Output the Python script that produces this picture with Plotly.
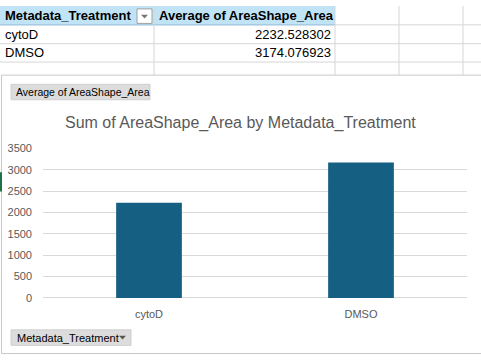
import plotly.graph_objects as go

# ---- data ----
treatments = ["cytoD", "DMSO"]
avg_area = [2232.528302, 3174.076923]
table_headers = ["Metadata_Treatment", "Average of AreaShape_Area"]
y_ticks = [0, 500, 1000, 1500, 2000, 2500, 3000, 3500]
chart_title = "Sum of AreaShape_Area by Metadata_Treatment"
value_button = "Average of AreaShape_Area"
axis_button = "Metadata_Treatment"

W, H = 481, 361
FONT = "Liberation Sans, Arial"


def px(x):
    return x / W


def py(y):
    return 1 - y / H


def note(text, x, y, xanchor="left", size=13, color="#000000"):
    return dict(text=text, x=px(x), y=py(y), xref="paper", yref="paper",
                xanchor=xanchor, yanchor="middle", showarrow=False,
                font=dict(family=FONT, size=size, color=color))


fig = go.Figure()
fig.add_trace(go.Bar(
    x=treatments, y=avg_area, marker=dict(color="#156082", line=dict(width=0)),
    width=0.31, hoverinfo="x+y"))

shapes = []
annotations = []
GRID = "#d6d6d6"

# ---- spreadsheet table ----
shapes.append(dict(type="rect", xref="paper", yref="paper", x0=px(0), x1=px(335),
                   y0=py(19.5), y1=py(0), fillcolor="#c0e4f5", line=dict(width=0), layer="below"))
for yy in [19.5, 39, 58]:
    shapes.append(dict(type="line", xref="paper", yref="paper", x0=0, x1=1,
                       y0=py(yy), y1=py(yy), line=dict(color=GRID, width=1)))
shapes.append(dict(type="line", xref="paper", yref="paper", x0=px(0), x1=px(335),
                   y0=py(19.5), y1=py(19.5), line=dict(color="#8fc3e3", width=1)))
for xx in [154, 335, 399, 463]:
    shapes.append(dict(type="line", xref="paper", yref="paper", x0=px(xx), x1=px(xx),
                       y0=py(0), y1=py(72), line=dict(color=GRID, width=1)))
# header dropdown box
shapes.append(dict(type="rect", xref="paper", yref="paper", x0=px(137), x1=px(152),
                   y0=py(18), y1=py(3), fillcolor="#ffffff", line=dict(color="#a0a0a0", width=1)))
shapes.append(dict(type="path", xref="paper", yref="paper",
                   path=f"M {px(141)} {py(9)} L {px(148)} {py(9)} L {px(144.5)} {py(13)} Z",
                   fillcolor="#777777", line=dict(width=0)))

annotations.append(note(f"<b>{table_headers[0]}</b>", 3, 10))
annotations.append(note(f"<b>{table_headers[1]}</b>", 157, 10))
for i, (t, v) in enumerate(zip(treatments, avg_area)):
    yc = 29.5 + 19 * i
    annotations.append(note(t, 3, yc))
    annotations.append(note(f"{v:.6f}", 333, yc, xanchor="right"))

# ---- chart object ----
shapes.append(dict(type="rect", xref="paper", yref="paper", x0=px(1.5), x1=px(482),
                   y0=py(359.5), y1=py(71.5), fillcolor="#ffffff",
                   line=dict(color="#c8c8c8", width=1), layer="below"))
shapes.append(dict(type="rect", xref="paper", yref="paper", x0=px(0), x1=px(2),
                   y0=py(192), y1=py(172), fillcolor="#1e7145", line=dict(width=0)))
# value field button
shapes.append(dict(type="rect", xref="paper", yref="paper", x0=px(11), x1=px(150),
                   y0=py(97), y1=py(81), fillcolor="#dcdcdc", line=dict(color="#cfcfcf", width=1)))
annotations.append(note(value_button, 14, 89, size=10.5))
# axis field button
shapes.append(dict(type="rect", xref="paper", yref="paper", x0=px(11), x1=px(131),
                   y0=py(351), y1=py(335), fillcolor="#dcdcdc", line=dict(color="#cfcfcf", width=1)))
annotations.append(note(axis_button, 15, 343, size=11))
shapes.append(dict(type="path", xref="paper", yref="paper",
                   path=f"M {px(119)} {py(341)} L {px(126)} {py(341)} L {px(122.5)} {py(345)} Z",
                   fillcolor="#555555", line=dict(width=0)))

# title
annotations.append(note(chart_title, 240, 121.5, xanchor="center", size=16, color="#595959"))

fig.update_layout(
    width=W, height=H, autosize=False,
    margin=dict(l=0, r=0, t=0, b=0, pad=0),
    paper_bgcolor="#ffffff", plot_bgcolor="rgba(0,0,0,0)",
    showlegend=False,
    shapes=shapes, annotations=annotations,
    xaxis=dict(domain=[px(43), px(467)], showgrid=False, showline=False, ticks="",
               tickfont=dict(family=FONT, size=11, color="#595959"),
               ticklabelstandoff=8, fixedrange=True),
    yaxis=dict(domain=[py(302), py(147.5)], range=[0, 3500], tickvals=y_ticks,
               showgrid=True, gridcolor="#d9d9d9", gridwidth=1, zeroline=True,
               zerolinecolor="#d9d9d9", zerolinewidth=1, showline=False, ticks="",
               tickfont=dict(family=FONT, size=11, color="#595959"),
               ticklabelstandoff=10, fixedrange=True),
    bargap=0.69,
)

css = ("var s=document.createElement('style');"
       "s.textContent='html,body{margin:0!important;padding:0!important;overflow:hidden;}';"
       "document.head.appendChild(s);")
fig.write_html("out.html", config={"displayModeBar": False}, post_script=css)
